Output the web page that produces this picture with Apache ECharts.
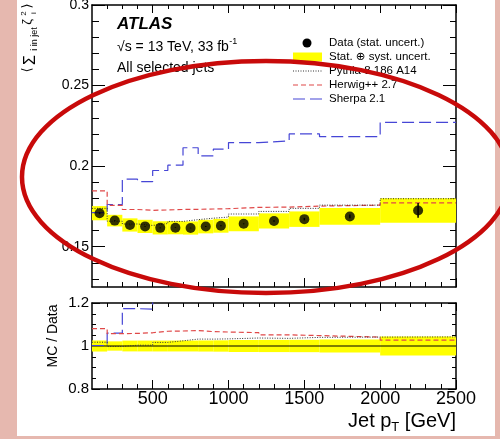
<!DOCTYPE html>
<html><head><meta charset="utf-8">
<script src="https://cdn.jsdelivr.net/npm/echarts@6/dist/echarts.min.js"></script>
<style>html,body{margin:0;padding:0;background:#fff}#c{width:500px;height:439px}</style>
</head><body><div id="c"></div>
<script>
// ---- data ----
const binEdges   = [100,200,300,400,500,600,700,800,900,1000,1200,1400,1600,2000,2500];
const dataVals   = [0.1708,0.1662,0.1635,0.1626,0.1617,0.1618,0.1616,0.1625,0.1630,0.1642,0.1660,0.1671,0.1688,0.1725];
const statErr    = [0.0006,0.0003,0.0002,0.0002,0.0002,0.0002,0.0002,0.0003,0.0003,0.0003,0.0005,0.0008,0.0012,0.0046];
const totErr     = [0.0044,0.0036,0.0041,0.0041,0.0041,0.0041,0.0041,0.0042,0.0043,0.0046,0.0047,0.0048,0.0052,0.0076];
const pythiaVals = [0.1738,0.1658,0.1641,0.1632,0.1644,0.1657,0.1668,0.1677,0.1684,0.1703,0.1719,0.1738,0.1758,0.1798];
const herwigVals = [0.1846,0.1757,0.1731,0.1726,0.1728,0.1731,0.1732,0.1734,0.1736,0.1744,0.1746,0.1752,0.1758,0.1772];
const sherpaVals = [0.1712,0.1762,0.1919,0.1904,0.1973,0.2006,0.2114,0.2064,0.2106,0.2146,0.2156,0.2200,0.2183,0.2271];
const xMajorTicks = [500,1000,1500,2000,2500];
const xMinorTicks = [200,300,400,600,700,800,900,1100,1200,1300,1400,1600,1700,1800,1900,2100,2200,2300,2400];
const yMainMajor  = [0.15,0.2,0.25,0.3];
const yMainMinor  = [0.13,0.14,0.16,0.17,0.18,0.19,0.21,0.22,0.23,0.24,0.26,0.27,0.28,0.29];
const yRatioMajor = [0.8,1,1.2];
const yRatioMinor = [0.85,0.9,0.95,1.05,1.1,1.15];
const mainRange  = [0.125, 0.3];
const ratioRange = [0.8, 1.2];
const legendLabels = ['Data (stat. uncert.)','Stat. \u2295 syst. uncert.','Pythia 8.186 A14','Herwig++ 2.7','Sherpa 2.1'];

const FF = '"Liberation Sans", Arial, "DejaVu Sans", sans-serif';
const C_HER = '#e04848', C_SHE = '#4646d6', C_PYT = '#333333', C_YEL = '#ffff00';

const xLo = binEdges[0], xHi = binEdges[binEdges.length-1];
const centers = dataVals.map((v,i)=> (binEdges[i]+binEdges[i+1])/2);

function steps(vals, ratio){
  const out=[];
  for(let i=0;i<vals.length;i++){
    const v = ratio ? vals[i]/dataVals[i] : vals[i];
    out.push([binEdges[i], v],[binEdges[i+1], v]);
  }
  return out;
}
const plainFmt = v => String(Math.round(v*1000)/1000);

function xAx(grid, pos, ticks, len, showLine, labels, fs){
  return {type:'value', gridIndex:grid, position:pos, min:xLo, max:xHi,
    axisLine:{show:showLine, onZero:false, lineStyle:{color:'#000', width:1.5}},
    axisTick:{show:true, inside:true, length:len, customValues:ticks, lineStyle:{color:'#000', width:1}},
    axisLabel: labels ? {show:true, customValues:labels, formatter:plainFmt, color:'#000', fontSize:fs, fontFamily:FF, margin:1} : {show:false},
    splitLine:{show:false}, minorTick:{show:false}, minorSplitLine:{show:false}};
}
function yAx(grid, pos, range, ticks, len, showLine, labels, fs){
  return {type:'value', gridIndex:grid, position:pos, min:range[0], max:range[1],
    axisLine:{show:showLine, onZero:false, lineStyle:{color:'#000', width:1.5}},
    axisTick:{show:true, inside:true, length:len, customValues:ticks, lineStyle:{color:'#000', width:1}},
    axisLabel: labels ? {show:true, customValues:labels, formatter:plainFmt, color:'#000', fontSize:fs, fontFamily:FF, margin:3} : {show:false},
    splitLine:{show:false}, minorTick:{show:false}, minorSplitLine:{show:false}};
}

const gMain = {left:92, top:5, width:364, height:282, containLabel:false, outerBoundsMode:'none'};
const gRat  = {left:92, top:303, width:364, height:86, containLabel:false, outerBoundsMode:'none'};

function bandRender(params, api){
  const lo=api.value(0), hi=api.value(1), a=api.value(2), b=api.value(3);
  const p1=api.coord([lo,b]), p2=api.coord([hi,a]);
  return {type:'rect', shape:{x:p1[0], y:p1[1], width:p2[0]-p1[0], height:p2[1]-p1[1]}, style:{fill:C_YEL}};
}
function errRender(params, api){
  const x=api.value(0), y=api.value(1), e=api.value(2);
  const a=api.coord([x,y-e]), b=api.coord([x,y+e]);
  return {type:'line', shape:{x1:a[0],y1:a[1],x2:b[0],y2:b[1]}, style:{stroke:'#000', lineWidth:1.5}};
}
function lineSeries(name, vals, ratio, color, dash, width, z){
  return {type:'line', name, xAxisIndex: ratio?4:0, yAxisIndex: ratio?4:0, data:steps(vals, ratio),
    showSymbol:false, symbol:'none', clip:true, z, animation:false,
    lineStyle:{color, width, type:dash}};
}

const mainBand = dataVals.map((v,i)=>[binEdges[i], binEdges[i+1], v-totErr[i], v+totErr[i]]);
const ratioBand = dataVals.map((v,i)=>[binEdges[i], binEdges[i+1], 1-totErr[i]/v, 1+totErr[i]/v]);

const series = [
  {type:'custom', xAxisIndex:0, yAxisIndex:0, renderItem:bandRender, data:mainBand, z:1, clip:true},
  {type:'custom', xAxisIndex:4, yAxisIndex:4, renderItem:bandRender, data:ratioBand, z:1, clip:true},
  {type:'line', xAxisIndex:4, yAxisIndex:4, data:[[xLo,1],[xHi,1]], showSymbol:false, symbol:'none', z:2,
    lineStyle:{color:'#000', width:1.2}},
  lineSeries('Sherpa 2.1', sherpaVals, false, C_SHE, [12,5], 1.2, 2),
  lineSeries('Herwig++ 2.7', herwigVals, false, C_HER, [5,3], 1.2, 3),
  lineSeries('Pythia 8.186 A14', pythiaVals, false, C_PYT, [1,1.5], 1, 4),
  lineSeries('Sherpa 2.1 r', sherpaVals, true, C_SHE, [12,5], 1.2, 2),
  lineSeries('Herwig++ 2.7 r', herwigVals, true, C_HER, [5,3], 1.2, 3),
  lineSeries('Pythia 8.186 A14 r', pythiaVals, true, C_PYT, [1,1.5], 1, 4),
  {type:'custom', xAxisIndex:0, yAxisIndex:0, renderItem:errRender, data:centers.map((c,i)=>[c,dataVals[i],statErr[i]]), z:5},
  {type:'scatter', xAxisIndex:0, yAxisIndex:0, data:centers.map((c,i)=>[c,dataVals[i]]), symbol:'circle', symbolSize:10,
    itemStyle:{color:'#000'}, z:6}
];

// text helpers
const ctx = document.createElement('canvas').getContext('2d');
function tw(s, font){ ctx.font = font; return ctx.measureText(s).width; }
function fnt(size, extra){ return (extra?extra+' ':'') + size + 'px ' + FF; }
function txt(text, x, y, font, align, rot){
  const el = {type:'text', x, y, z:50, style:{text, font, fill:'#000', align:align||'left', verticalAlign:'middle',
    textAlign:align||'left', textVerticalAlign:'middle'}};
  if (rot) el.rotation = rot;
  return el;
}

const graphics = [];
// pink frame
const PINK = '#e6b8af';
graphics.push({type:'rect', shape:{x:0,y:0,width:17,height:439}, style:{fill:PINK}, z:0, silent:true});
graphics.push({type:'rect', shape:{x:495,y:0,width:5,height:439}, style:{fill:PINK}, z:0, silent:true});
graphics.push({type:'rect', shape:{x:0,y:436,width:500,height:3}, style:{fill:PINK}, z:0, silent:true});

// ATLAS labels
graphics.push(txt('ATLAS', 117, 24, fnt(17,'italic bold')));
const sText = '\u221As = 13 TeV, 33 fb';
graphics.push(txt(sText, 117, 47, fnt(14)));
graphics.push(txt('-1', 117 + tw(sText, fnt(14)) + 0.5, 42, fnt(9)));
graphics.push(txt('All selected jets', 117, 68, fnt(14)));

// legend
const LX = 329, LY = [43,57,71,85,99], LF = fnt(11.5);
graphics.push({type:'circle', shape:{cx:307, cy:LY[0], r:4.5}, style:{fill:'#000'}, z:50});
graphics.push({type:'rect', shape:{x:293, y:LY[1]-4.5, width:29, height:9}, style:{fill:C_YEL}, z:50});
graphics.push({type:'line', shape:{x1:293,y1:LY[2],x2:322,y2:LY[2]}, style:{stroke:C_PYT, lineWidth:1, lineDash:[1,1.5]}, z:50});
graphics.push({type:'line', shape:{x1:293,y1:LY[3],x2:322,y2:LY[3]}, style:{stroke:C_HER, lineWidth:1.2, lineDash:[5,3]}, z:50});
graphics.push({type:'line', shape:{x1:293,y1:LY[4],x2:322,y2:LY[4]}, style:{stroke:C_SHE, lineWidth:1.2, lineDash:[12,5]}, z:50});
legendLabels.forEach((s,i)=>graphics.push(txt(s, LX, LY[i], LF)));

// y title of main panel (rotated pieces)
const R = Math.PI/2;
graphics.push(txt('\u27E8', 27.5, 70, fnt(13), 'center', R));
graphics.push(txt('\u03A3', 31, 60, fnt(16), 'center', R));
graphics.push(txt('i in jet', 35, 39, fnt(9), 'center', R));
graphics.push(txt('\u03B6', 27.5, 22, fnt(13), 'center', R));
graphics.push(txt('2', 24, 13.5, fnt(8), 'center', R));
graphics.push(txt('i', 33.5, 13, fnt(8), 'center', R));
graphics.push(txt('\u27E9', 27.5, 6, fnt(13), 'center', R));

// ratio y title
graphics.push(txt('MC / Data', 53, 336, fnt(14), 'center', R));

// x title
const f20 = fnt(20), f13 = fnt(13);
const w3 = tw(' [GeV]', f20), wT = tw('T', f13), w1 = tw('Jet p', f20);
const x3 = 456 - w3, xT = x3 - wT, x1 = xT - w1;
graphics.push(txt('Jet p', x1, 421, f20));
graphics.push(txt('T', xT, 427, f13));
graphics.push(txt(' [GeV]', x3, 421, f20));

// red annotation ellipse
graphics.push({type:'ellipse', shape:{cx:266, cy:177, rx:244, ry:116}, style:{fill:'none', stroke:'#c80a0a', lineWidth:4.5}, z:100, silent:true});

const option = {
  animation:false,
  backgroundColor:'#fff',
  grid:[gMain, Object.assign({}, gMain), gRat, Object.assign({}, gRat)],
  xAxis:[
    xAx(0,'bottom',xMajorTicks,9,true,null),
    xAx(0,'top',xMajorTicks,8,true,null),
    xAx(1,'bottom',xMinorTicks,5,false,null),
    xAx(1,'top',xMinorTicks,4,false,null),
    xAx(2,'bottom',xMajorTicks,9,true,xMajorTicks,18),
    xAx(2,'top',xMajorTicks,8,true,null),
    xAx(3,'bottom',xMinorTicks,5,false,null),
    xAx(3,'top',xMinorTicks,4,false,null)
  ],
  yAxis:[
    yAx(0,'left',mainRange,yMainMajor,13,true,yMainMajor,14),
    yAx(0,'right',mainRange,yMainMajor,13,true,null),
    yAx(1,'left',mainRange,yMainMinor,7,false,null),
    yAx(1,'right',mainRange,yMainMinor,6,false,null),
    yAx(2,'left',ratioRange,yRatioMajor,8,true,yRatioMajor,15),
    yAx(2,'right',ratioRange,yRatioMajor,8,true,null),
    yAx(3,'left',ratioRange,yRatioMinor,4,false,null),
    yAx(3,'right',ratioRange,yRatioMinor,4,false,null)
  ],
  series,
  graphic:{elements:graphics}
};
const chart = echarts.init(document.getElementById('c'), null, {renderer:'canvas'});
chart.setOption(option);
</script></body></html>
